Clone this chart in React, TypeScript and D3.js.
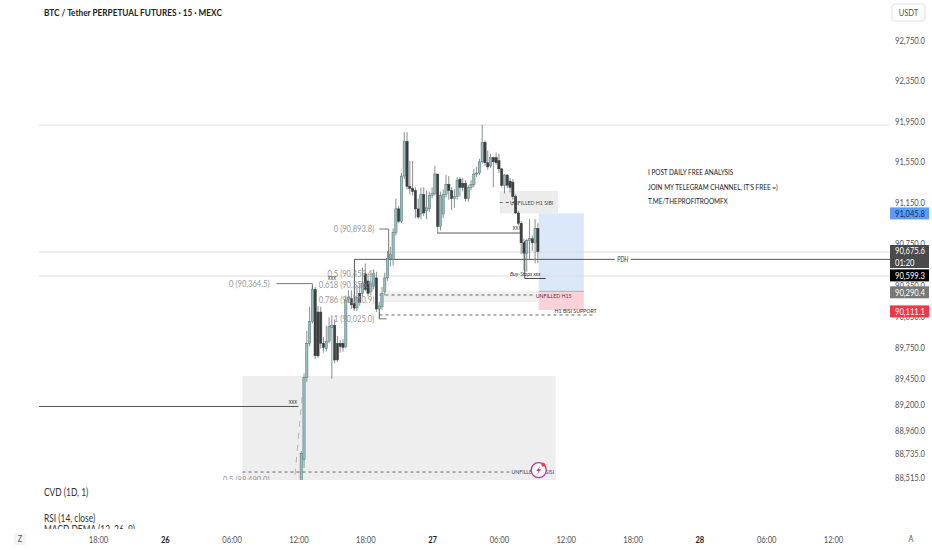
import React, { useEffect, useRef } from 'react';
import * as d3 from 'd3';

const WIDTH = 932;
const HEIGHT = 550;
const FONT = 'Lato, "Noto Sans", sans-serif';

// 15 minute bars, bar 0 is the 26th at 12:00
const opens = [88300, 88280, 88680, 89460, 89790, 90000, 90310, 90090, 90090, 89790, 89740, 89810, 89940, 89960, 89790, 89790, 89790, 89760, 90210, 90220, 90170, 90130, 90270, 90270, 90460, 90390, 90290, 90340, 90420, 90120, 90140, 90290, 90420, 90610, 90600, 90860, 91090, 90970, 91410, 91750, 91310, 91290, 91270, 91090, 91040, 91230, 91070, 91090, 91220, 91240, 91430, 90920, 91040, 91230, 91330, 91270, 91190, 91210, 91380, 91340, 91340, 91190, 91300, 91330, 91430, 91440, 91550, 91740, 91540, 91510, 91590, 91590, 91560, 91480, 91320, 91420, 91360, 91350, 91210, 91050, 90950, 90760, 90660, 90780, 90800, 90760, 90900];
const highs = [88400, 88760, 89500, 89910, 90140, 90340, 90330, 90150, 90140, 89850, 89960, 90040, 90060, 90020, 89860, 89820, 89830, 90250, 90300, 90300, 90260, 90350, 90360, 90520, 90560, 90460, 90470, 90500, 90480, 90190, 90330, 90470, 90680, 90720, 90900, 91190, 91120, 91440, 91840, 91840, 91560, 91560, 91300, 91190, 91300, 91300, 91270, 91260, 91300, 91510, 91430, 91260, 91280, 91420, 91410, 91300, 91280, 91400, 91400, 91390, 91370, 91320, 91370, 91480, 91500, 91580, 91910, 91760, 91660, 91630, 91600, 91640, 91630, 91490, 91430, 91430, 91390, 91380, 91230, 91070, 90970, 90800, 90800, 90990, 90830, 90990, 90950];
const lows = [88200, 88230, 88600, 89420, 89760, 89980, 89640, 89650, 89740, 89700, 89710, 89790, 89450, 89600, 89610, 89700, 89710, 89740, 90180, 90120, 90100, 90100, 90150, 90240, 90290, 90240, 90250, 90310, 90090, 90020, 90110, 90250, 90390, 90530, 90540, 90830, 90950, 90950, 91380, 91280, 91230, 91220, 91000, 90990, 90990, 91020, 90990, 91060, 91190, 91220, 90850, 90880, 91000, 91200, 91180, 91080, 91100, 91180, 91210, 91260, 91160, 91160, 91270, 91300, 91400, 91420, 91530, 91510, 91470, 91490, 91300, 91520, 91440, 91300, 91240, 91290, 91250, 91180, 91040, 90930, 90650, 90490, 90480, 90600, 90680, 90560, 90560];
const closes = [88280, 88740, 89460, 89790, 90000, 90310, 89670, 89670, 89790, 89750, 89810, 89950, 89960, 89630, 89630, 89760, 89750, 90200, 90230, 90160, 90130, 90230, 90180, 90370, 90310, 90270, 90360, 90460, 90120, 90150, 90270, 90420, 90610, 90650, 90860, 91090, 90970, 91410, 91750, 91310, 91290, 91260, 91090, 91010, 91230, 91050, 91100, 91220, 91240, 91430, 90920, 91220, 91230, 91330, 91270, 91190, 91210, 91370, 91300, 91300, 91190, 91300, 91330, 91430, 91440, 91550, 91740, 91540, 91500, 91590, 91550, 91540, 91480, 91320, 91420, 91320, 91300, 91210, 91050, 90950, 90760, 90660, 90780, 90800, 90760, 90900, 90675.6];

// price axis and its tags
const priceTicks = [92750, 92350, 91950, 91550, 91150, 90750, 90350, 90050, 89750, 89450, 89200, 88960, 88735, 88515];
const lastPrice = 90675.6;
const countdown = '01:20';
const pdhPrice = 90599.3;
const targetPrice = 91045.8;
const entryPrice = 90290.4;
const stopPrice = 90111.1;

// levels drawn across the pane
const fullLevels = [91911, 90670, 90438];
const legend = ['CVD (1D, 1)', 'RSI (14, close)', 'MACD DEMA (12, 26, 9)'];
const notes = ['I POST DAILY FREE ANALYSIS', "JOIN MY TELEGRAM CHANNEL, IT'S FREE =)", 'T.ME/THEPROFITROOMFX'];
const fibLabels = ['0.5 (90,459.4)', '0.618 (90,356.9)', '0.786 (90,210.9)', '1 (90,025.0)'];
const fibPrices = [90459.4, 90356.9, 90210.9, 90025];

const App: React.FC = () => {
  const ref = useRef<SVGSVGElement | null>(null);

  useEffect(() => {
    if (!ref.current) return;
    const svg = d3.select(ref.current);
    svg.selectAll('*').remove();

    const plotRight = 890;
    const paneLeft = 39;
    const paneBottom = 480;

    const bar0 = new Date(2024, 10, 26, 12, 0);
    const barTime = (i: number) => new Date(bar0.getTime() + i * 15 * 60000);
    const x = d3.scaleTime()
      .domain([new Date(2024, 10, 25, 18, 0), new Date(2024, 10, 28, 12, 0)])
      .range([98, 833]);
    const y = d3.scaleLog().domain([92750, 88515]).range([40, 477]);
    const xb = (i: number) => x(barTime(i));

    svg.append('defs').append('clipPath').attr('id', 'pane')
      .append('rect').attr('x', 0).attr('y', 0).attr('width', plotRight).attr('height', paneBottom);
    const pane = svg.append('g').attr('clip-path', 'url(#pane)');

    const box = (b0: number, b1: number, p0: number, p1: number, fill: string) =>
      pane.append('rect')
        .attr('x', xb(b0)).attr('width', xb(b1) - xb(b0))
        .attr('y', y(p0)).attr('height', y(p1) - y(p0))
        .attr('fill', fill);

    const seg = (x0: number, p0: number, x1: number, p1: number, color: string, w = 1, dash?: string) =>
      pane.append('line')
        .attr('x1', x0).attr('x2', x1).attr('y1', y(p0)).attr('y2', y(p1))
        .attr('stroke', color).attr('stroke-width', w)
        .attr('stroke-dasharray', dash || null);

    const label = (g: any, px: number, p: number, s: string, color: string, size: number, anchor = 'start') =>
      g.append('text')
        .attr('x', px).attr('y', y(p)).attr('dy', '0.35em')
        .attr('text-anchor', anchor)
        .attr('fill', color)
        .style('font-size', `${size}px`)
        .text(s);

    // zones
    box(-20.1, 92.4, 89476, 88300, '#eeeeee');
    box(72.3, 93.2, 91264, 91045.8, '#ececec');
    box(29.1, 86.3, entryPrice, 90187, '#f1f1f1');
    box(86.3, 102.5, targetPrice, entryPrice, '#dbe8fa');
    box(86.3, 102.5, entryPrice, stopPrice, '#fbd2da');
    seg(xb(86.3), entryPrice, xb(102.5), entryPrice, '#b0b0b0', 1);

    // levels
    fullLevels.forEach((p) => seg(paneLeft, p, plotRight, p, '#dcdcdc', 1));
    seg(xb(20.1), pdhPrice, plotRight, pdhPrice, '#555555', 1);
    seg(paneLeft, 89185, xb(0), 89185, '#555555', 1);
    seg(xb(50), 90855, xb(80.2), 90855, '#555555', 1);
    seg(xb(20.1), pdhPrice, xb(20.1), 90120, '#555555', 1);
    seg(xb(29), 90893.8, xb(32.4), 90893.8, '#777777', 1);
    seg(xb(32.4), 90893.8, xb(32.4), pdhPrice, '#777777', 1);
    seg(xb(-7.9), 90364.5, xb(5), 90364.5, '#777777', 1);
    seg(xb(5), 90364.5, xb(5), 90310, '#777777', 1);
    seg(xb(81.3), 90777, xb(81.3), 90414, '#444444', 1);
    seg(xb(81.3), 90414, xb(88.8), 90414, '#444444', 1);
    seg(xb(29.1), 90120, xb(29.1), 90025, '#777777', 1);
    seg(xb(29.1), 90025, xb(31.7), 90025, '#777777', 1);
    seg(xb(29.1), 90255, xb(84.2), 90255, '#555555', 0.9, '3 3');
    seg(xb(29.1), 90062, xb(106), 90062, '#555555', 0.9, '3 3');
    seg(xb(72.3), 91152, xb(77.7), 91152, '#555555', 0.9, '3 3');
    seg(xb(-20.1), 88562, xb(76.5), 88562, '#555555', 0.9, '3 3');
    seg(xb(1.3), 89275, xb(-1.4), 88486, '#b5b5b5', 1, '6 6');

    // candles
    const bodyWidth = (xb(1) - xb(0)) * 0.82;
    const candles = d3.range(opens.length);
    pane.append('g').selectAll('line').data(candles).enter().append('line')
      .attr('x1', (i) => xb(i)).attr('x2', (i) => xb(i))
      .attr('y1', (i) => y(highs[i])).attr('y2', (i) => y(lows[i]))
      .attr('stroke', '#6a7272').attr('stroke-width', 0.8);
    pane.append('g').selectAll('rect').data(candles).enter().append('rect')
      .attr('x', (i) => xb(i) - bodyWidth / 2)
      .attr('width', bodyWidth)
      .attr('y', (i) => y(Math.max(opens[i], closes[i])))
      .attr('height', (i) => Math.max(1, Math.abs(y(opens[i]) - y(closes[i]))))
      .attr('fill', (i) => (closes[i] >= opens[i] ? '#97bcbc' : '#3a3f41'))
      .attr('stroke', (i) => (closes[i] >= opens[i] ? '#4f7676' : '#3a3f41'))
      .attr('stroke-width', 0.5);

    // pane labels
    const txt = pane.append('g').style('font-family', FONT);
    label(txt, xb(27.2), 90893.8, '0 (90,893.8)', '#999999', 9.5, 'end');
    label(txt, xb(-10.4), 90364.5, '0 (90,364.5)', '#999999', 9.5, 'end');
    fibLabels.forEach((s, i) => label(txt, xb(27.2), fibPrices[i], s, '#999999', 9.5, 'end'));
    label(txt, xb(-10.4), 88490, '0.5 (88,490.0)', '#999999', 9.5, 'end');
    label(txt, xb(12), 90420, 'xxx', '#444444', 7, 'middle');
    label(txt, xb(-2), 89230, 'xxx', '#444444', 7, 'middle');
    label(txt, xb(78.5), 90905, 'xxx', '#444444', 7, 'middle');
    label(txt, xb(76), 91152, 'UNFILLED H1 SIBI', '#444444', 6.5);
    label(txt, xb(85.2), 90245, 'UNFILLED H15', '#5a3040', 6.5);
    label(txt, xb(92), 90105, 'H1 BISI SUPPORT', '#333333', 6.5);
    label(txt, xb(76), 90457, 'Buy-Stops xxx', '#333333', 6.5).style('font-style', 'italic');
    label(txt, xb(76.5), 88562, 'UNFILLED H1 SISI', '#444444', 6.5);

    // PDH sits on the line with a white gap
    const pdhX = xb(116.5);
    pane.append('rect').attr('x', pdhX - 8).attr('width', 16)
      .attr('y', y(pdhPrice) - 4).attr('height', 8).attr('fill', '#ffffff');
    label(pane.append('g').style('font-family', FONT), pdhX, pdhPrice, 'PDH', '#333333', 7, 'middle')
      .style('font-style', 'italic');

    // lightning badge
    const badge = svg.append('g').attr('transform', `translate(${xb(86.3)},${y(88580)})`);
    badge.append('circle').attr('r', 7.5).attr('fill', '#ffffff').attr('stroke', '#b03aa8').attr('stroke-width', 1.3);
    badge.append('path').attr('d', 'M1.5,-4 L-2.5,0.8 L-0.2,0.8 L-1.5,4 L2.5,-0.8 L0.2,-0.8 Z').attr('fill', '#b03aa8');
    badge.append('circle').attr('cx', 4.5).attr('cy', -5.5).attr('r', 1.9).attr('fill', '#f23645');

    // free text and legend
    const noteG = svg.append('g').style('font-family', FONT).style('font-size', '8px').attr('fill', '#222222');
    notes.forEach((s, i) => noteG.append('text').attr('x', 648).attr('y', 175 + i * 14.5).text(s));

    svg.append('text').attr('x', 44).attr('y', 15.5)
      .style('font-family', FONT).style('font-size', '10.3px').style('font-weight', 700)
      .attr('fill', '#222222').text('BTC / Tether PERPETUAL FUTURES · 15 · MEXC');

    const legendG = svg.append('g').style('font-family', FONT).style('font-size', '10.5px').attr('fill', '#333333');
    legend.forEach((s, i) => legendG.append('text').attr('x', 44).attr('y', [496, 522, 533][i]).text(s));

    // time strip hides the clipped legend row
    svg.append('rect').attr('x', 0).attr('y', 529).attr('width', WIDTH).attr('height', 21).attr('fill', '#ffffff');

    // axes
    const fmtDay = d3.timeFormat('%-d');
    const fmtHour = d3.timeFormat('%H:%M');
    const timeTicks = d3.timeHour.every(6)!.range(x.domain()[0], new Date(x.domain()[1].getTime() + 1));
    const axisX = svg.append('g').attr('transform', 'translate(0,528)')
      .call(d3.axisBottom(x).tickValues(timeTicks).tickSize(0).tickPadding(8)
        .tickFormat((d: any) => (d.getHours() === 0 ? fmtDay(d) : fmtHour(d))));
    axisX.select('.domain').remove();
    axisX.selectAll('text')
      .style('font-family', FONT).style('font-size', '9.5px')
      .style('font-weight', (d: any) => (d.getHours() === 0 ? 700 : 400))
      .attr('fill', (d: any) => (d.getHours() === 0 ? '#222222' : '#555555'));

    const axisY = svg.append('g').attr('transform', `translate(${plotRight},0)`)
      .call(d3.axisRight(y).tickValues(priceTicks).tickSize(0).tickPadding(5)
        .tickFormat((d: any) => d3.format(',.1f')(d)));
    axisY.select('.domain').remove();
    axisY.selectAll('text')
      .style('font-family', FONT).style('font-size', '9.5px').attr('fill', '#555555');

    // price tags
    const tags = svg.append('g').style('font-family', FONT).style('font-size', '9.5px');
    const tag = (cy: number, h: number, fill: string, color: string, lines: string[]) => {
      tags.append('rect').attr('x', 890).attr('y', cy - h / 2).attr('width', 39).attr('height', h).attr('fill', fill);
      lines.forEach((s, i) => tags.append('text')
        .attr('x', 895).attr('y', cy - h / 2 + 6 + i * 11.5).attr('dy', '0.35em')
        .attr('fill', color).text(s));
    };
    tag(y(targetPrice), 12, '#5b9cf6', '#14305c', [d3.format(',.1f')(targetPrice)]);
    tag(y(lastPrice) + 5, 23, '#4a4a4a', '#ffffff', [d3.format(',.1f')(lastPrice), countdown]);
    tag(y(pdhPrice) + 16, 12, '#000000', '#ffffff', [d3.format(',.1f')(pdhPrice)]);
    tag(y(entryPrice) + 1, 12, '#787878', '#ffffff', [d3.format(',.1f')(entryPrice)]);
    tag(y(stopPrice) + 1.5, 12, '#f23645', '#ffffff', [d3.format(',.1f')(stopPrice)]);

    // corner buttons
    const chrome = svg.append('g').style('font-family', FONT);
    chrome.append('rect').attr('x', 892).attr('y', 4).attr('width', 33).attr('height', 17).attr('rx', 3)
      .attr('fill', '#ffffff').attr('stroke', '#e2e2e2');
    chrome.append('text').attr('x', 908.5).attr('y', 15.5).attr('text-anchor', 'middle')
      .style('font-size', '9.5px').attr('fill', '#555555').text('USDT');
    chrome.append('rect').attr('x', 14).attr('y', 533).attr('width', 12).attr('height', 12).attr('rx', 2).attr('fill', '#f4f4f4');
    chrome.append('text').attr('x', 20).attr('y', 542).attr('text-anchor', 'middle')
      .style('font-size', '9px').attr('fill', '#555555').text('Z');
    chrome.append('text').attr('x', 911).attr('y', 542).attr('text-anchor', 'middle')
      .style('font-size', '9px').attr('fill', '#555555').text('A');

    // reference face is narrower than Lato, squeeze all text to fit
    svg.selectAll<SVGTextElement, unknown>('text').each(function () {
      const len = this.getComputedTextLength();
      d3.select(this).attr('textLength', len * 0.8).attr('lengthAdjust', 'spacingAndGlyphs');
    });
  }, []);

  return (
    <svg
      ref={ref}
      width={WIDTH}
      height={HEIGHT}
      style={{ position: 'absolute', left: 0, top: 0, background: '#ffffff' }}
    />
  );
};

export default App;
